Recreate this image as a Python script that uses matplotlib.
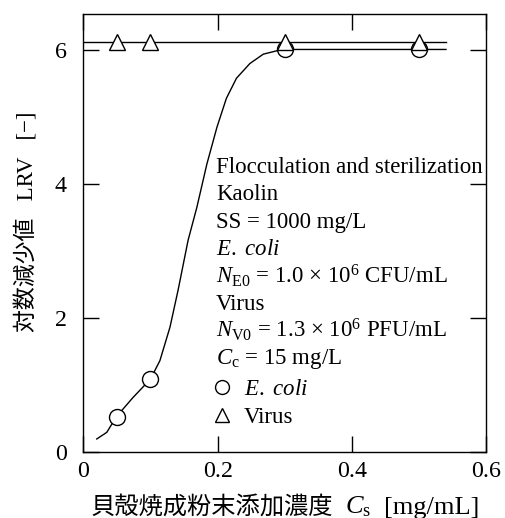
import matplotlib
matplotlib.use("Agg")
import matplotlib.pyplot as plt
from matplotlib.offsetbox import TextArea, HPacker, AnchoredOffsetbox

# measured values
ecoli_x = [0.05, 0.10, 0.30, 0.50]
ecoli_y = [0.52, 1.09, 6.01, 6.01]
virus_x = [0.05, 0.10, 0.30, 0.50]
virus_y = [6.12, 6.12, 6.12, 6.12]

# fitted curve for E. coli
fit_x = [0.020, 0.035, 0.049, 0.074, 0.100, 0.114, 0.129, 0.141, 0.151, 0.156,
         0.169, 0.184, 0.199, 0.213, 0.228, 0.248, 0.268, 0.288, 0.30, 0.54]
fit_y = [0.19, 0.29, 0.52, 0.81, 1.085, 1.36, 1.86, 2.41, 2.91, 3.16,
         3.65, 4.30, 4.85, 5.28, 5.58, 5.80, 5.94, 5.99, 6.01, 6.01]

# virus fit line
vline_x = [0.0, 0.54]
vline_y = [6.12, 6.12]

info_lines = [
    "Flocculation and sterilization",
    "Kaolin",
    "SS = 1000 mg/L",
    r"$\mathit{E.\ coli}$",
    r"$N_{\rm E0}$ = 1.0 × 10$^{6}$ CFU/mL",
    "Virus",
    r"$N_{\rm V0}$ = 1.3 × 10$^{6}$ PFU/mL",
    r"$C_{\rm c}$ = 15 mg/L",
]

plt.rcParams["font.family"] = ["Liberation Serif", "Noto Sans CJK JP"]
plt.rcParams["mathtext.fontset"] = "custom"
plt.rcParams["mathtext.rm"] = "Liberation Serif"
plt.rcParams["mathtext.it"] = "Liberation Serif:italic"

fig = plt.figure(figsize=(5.05, 5.18), dpi=100)
ax = fig.add_axes([0.165, 0.128, 0.798, 0.845])

ax.plot(fit_x, fit_y, color="black", lw=1.0)
ax.plot(vline_x, vline_y, color="black", lw=1.0)
ax.plot(ecoli_x, ecoli_y, "o", ms=11.5, mfc="white", mec="black", mew=1.0,
        label=r"$\mathit{E.\ coli}$")
ax.plot(virus_x, virus_y, "^", ms=11.5, mfc="white", mec="black", mew=1.0,
        label="Virus")

ax.set_xlim(0, 0.6)
ax.set_ylim(0, 6.54)
ax.set_xticks([0, 0.2, 0.4, 0.6])
ax.set_xticklabels(["0", "0.2", "0.4", "0.6"])
ax.set_yticks([0, 2, 4, 6])
ax.tick_params(direction="in", length=11.5, width=1.0, labelsize=17.3,
               top=True, right=True)
ax.tick_params(axis="x", pad=7)
ax.tick_params(axis="y", pad=12)
for s in ax.spines.values():
    s.set_linewidth(1.0)

# x label: CJK part and math part as separate pieces so the CJK font is used
xl_parts = [
    TextArea("貝殻焼成粉末添加濃度", textprops=dict(fontsize=17.5)),
    TextArea(r"$C_{\rm s}$", textprops=dict(fontsize=19)),
    TextArea("[mg/mL]", textprops=dict(fontsize=19)),
]
xl_box = HPacker(children=xl_parts, align="baseline", pad=0, sep=9)
xl = AnchoredOffsetbox(loc="center", child=xl_box, frameon=False, pad=0,
                       borderpad=0, bbox_to_anchor=(0.5, -0.126),
                       bbox_transform=ax.transAxes)
ax.add_artist(xl)

ax.set_ylabel("対数減少値   LRV   [−]", fontsize=16.5)
ax.yaxis.set_label_coords(-0.112, 0.525)

ys = [0.636, 0.575, 0.511, 0.449, 0.385, 0.324, 0.262, 0.200]
for txt, yy in zip(info_lines, ys):
    ax.text(0.329, yy, txt, transform=ax.transAxes, fontsize=16.5, va="baseline")

ax.legend(loc="upper left", bbox_to_anchor=(0.324, 0.166), frameon=False,
          fontsize=16.5, handlelength=0.7, handletextpad=0.6, labelspacing=0.3,
          borderpad=0, borderaxespad=0, markerscale=0.87)

fig.savefig("out.png", dpi=100)
